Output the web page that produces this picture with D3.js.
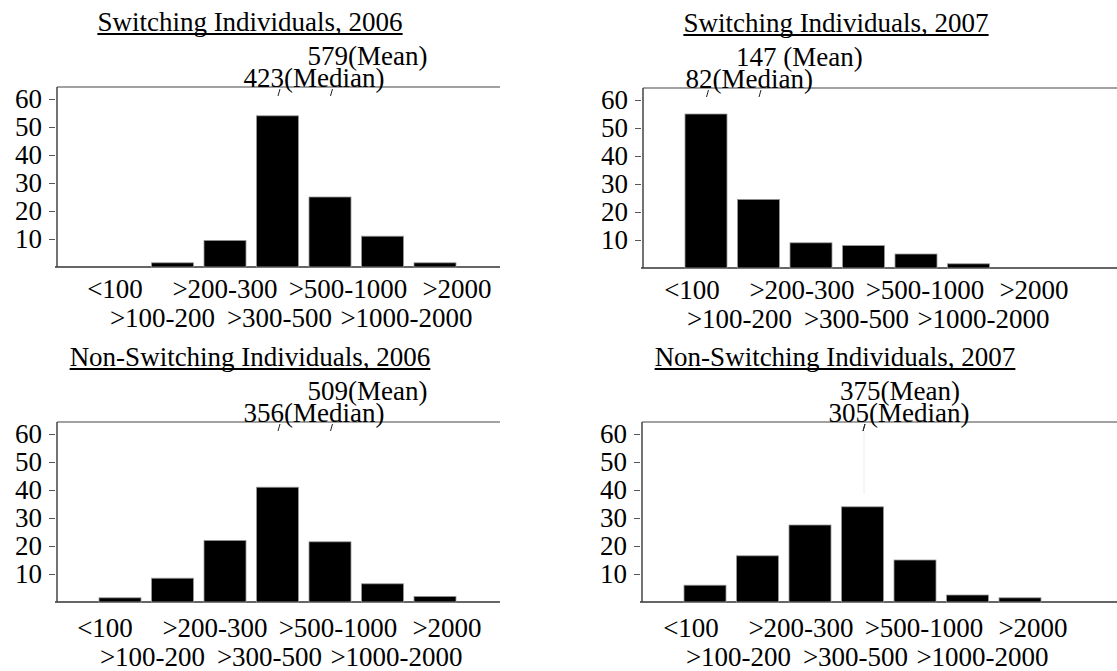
<!DOCTYPE html>
<html>
<head>
<meta charset="utf-8">
<script src="https://cdn.jsdelivr.net/npm/d3@7"></script>
<style>
  body { margin: 0; background: #fff; }
  svg text { font-family: "Liberation Serif", "Times New Roman", serif; fill: #000; }
</style>
</head>
<body>
<svg width="1117" height="671"></svg>
<script>
const categories = ['<100', '>100-200', '>200-300', '>300-500', '>500-1000', '>1000-2000', '>2000'];
const binEdges = [100, 200, 300, 500, 1000, 2000];
const titles = ['Switching Individuals, 2006', 'Switching Individuals, 2007',
                'Non-Switching Individuals, 2006', 'Non-Switching Individuals, 2007'];
const switch2006 = [0, 1.5, 9.5, 54, 25, 11, 1.5];
const switch2007 = [55, 24.5, 9, 8, 5, 1.5, 0];
const nonSwitch2006 = [1.5, 8.5, 22, 41, 21.5, 6.5, 2];
const nonSwitch2007 = [6, 16.5, 27.5, 34, 15, 2.5, 1.5];
const means = [579, 147, 509, 375];
const medians = [423, 82, 356, 305];
const meanSuffix = ['(Mean)', ' (Mean)', '(Mean)', '(Mean)'];
const yTicks = [10, 20, 30, 40, 50, 60];

const series = [switch2006, switch2007, nonSwitch2006, nonSwitch2007];

// panel placement
const panels = [
  { left: 57, top: 87, right: 500, labelDx: 9, row1: 31, row2: 60, faint: false },
  { left: 643, top: 88, right: 1117, labelDx: 0, row1: 31, row2: 60, faint: false },
  { left: 57, top: 422, right: 500, labelDx: -1, row1: 35, row2: 64, faint: false },
  { left: 642, top: 422, right: 1117, labelDx: 0, row1: 35, row2: 64, faint: true }
];
// tick labels were hand placed in the original, relative to bar centres
const labelShift = [-14, -19, -9, -7, 9, 15, 13];

const svg = d3.select('svg');
const fontSize = 27;

panels.forEach((p, i) => {
  const values = series[i];
  const floor = p.top + 180;
  const g = svg.append('g');

  const x = d3.scaleBand()
    .domain(categories)
    .range([p.left + 42, p.left + 42 + 357])
    .paddingInner(0.2)
    .paddingOuter(0);

  const y = d3.scaleLinear().domain([0, 60]).range([floor, floor - 168]);

  // frame
  g.append('line').attr('x1', p.left).attr('x2', p.right).attr('y1', p.top).attr('y2', p.top)
    .attr('stroke', '#444').attr('stroke-width', 1);
  g.append('line').attr('x1', p.left - 2).attr('x2', p.right).attr('y1', floor).attr('y2', floor)
    .attr('stroke', '#333').attr('stroke-width', 1.5);
  g.append('line').attr('x1', p.left).attr('x2', p.left).attr('y1', p.top).attr('y2', floor)
    .attr('stroke', '#444').attr('stroke-width', 1.5);

  // y axis ticks
  const ax = g.append('g')
    .attr('transform', `translate(${p.left - 2},0)`)
    .call(d3.axisLeft(y).tickValues(yTicks).tickSize(6).tickSizeOuter(0).tickPadding(7));
  ax.select('.domain').remove();
  ax.selectAll('.tick line').attr('stroke', '#555').attr('stroke-width', 1);
  ax.selectAll('.tick text')
    .style('font-family', '"Liberation Serif", "Times New Roman", serif')
    .style('font-size', fontSize + 'px')
    .attr('fill', '#000');

  // bars
  g.selectAll('rect.bar')
    .data(values.map((v, k) => ({ cat: categories[k], v })).filter(d => d.v > 0))
    .join('rect')
    .attr('class', 'bar')
    .attr('x', d => x(d.cat))
    .attr('width', x.bandwidth())
    .attr('y', d => y(d.v))
    .attr('height', d => floor - y(d.v))
    .attr('fill', '#000')
    .attr('stroke', '#999')
    .attr('stroke-width', 0.8);

  // category labels, two staggered rows
  g.selectAll('text.cat')
    .data(categories)
    .join('text')
    .attr('class', 'cat')
    .attr('x', (c, k) => x(c) + x.bandwidth() / 2 + labelShift[k] + p.labelDx)
    .attr('y', (c, k) => floor + (k % 2 === 0 ? p.row1 : p.row2))
    .attr('text-anchor', 'middle')
    .style('font-size', fontSize + 'px')
    .text(c => c);

  // title with a drawn underline
  const t = g.append('text')
    .attr('x', p.left + 193)
    .attr('y', p.top - 56)
    .attr('text-anchor', 'middle')
    .style('font-size', fontSize + 'px')
    .text(titles[i]);
  const tw = t.node().getComputedTextLength();
  g.append('line')
    .attr('x1', p.left + 193 - tw / 2).attr('x2', p.left + 193 + tw / 2)
    .attr('y1', p.top - 53).attr('y2', p.top - 53)
    .attr('stroke', '#000').attr('stroke-width', 1.8);

  // mean / median markers
  const markX = v => {
    const c = categories[d3.bisectRight(binEdges, v)];
    return x(c) + x.bandwidth() / 2 + 1.5;
  };
  const mx = markX(means[i]);
  const dx = markX(medians[i]);

  if (p.faint) {
    g.append('line').attr('x1', dx).attr('x2', dx).attr('y1', p.top + 9).attr('y2', p.top + 72)
      .attr('stroke', '#ececec').attr('stroke-width', 1);
  }
  [mx, dx].forEach(m => {
    g.append('line').attr('x1', m + 1).attr('x2', m - 1).attr('y1', p.top + 2).attr('y2', p.top + 9)
      .attr('stroke', '#222').attr('stroke-width', 1);
  });

  g.append('text')
    .attr('x', mx - 24)
    .attr('y', p.top - 22)
    .style('font-size', fontSize + 'px')
    .text(means[i] + meanSuffix[i]);

  g.append('text')
    .attr('x', dx + 5)
    .attr('y', p.top)
    .attr('text-anchor', 'end')
    .style('font-size', fontSize + 'px')
    .text(medians[i]);
  g.append('text')
    .attr('x', dx + 5)
    .attr('y', p.top)
    .style('font-size', fontSize + 'px')
    .text('(Median)');
});
</script>
</body>
</html>
